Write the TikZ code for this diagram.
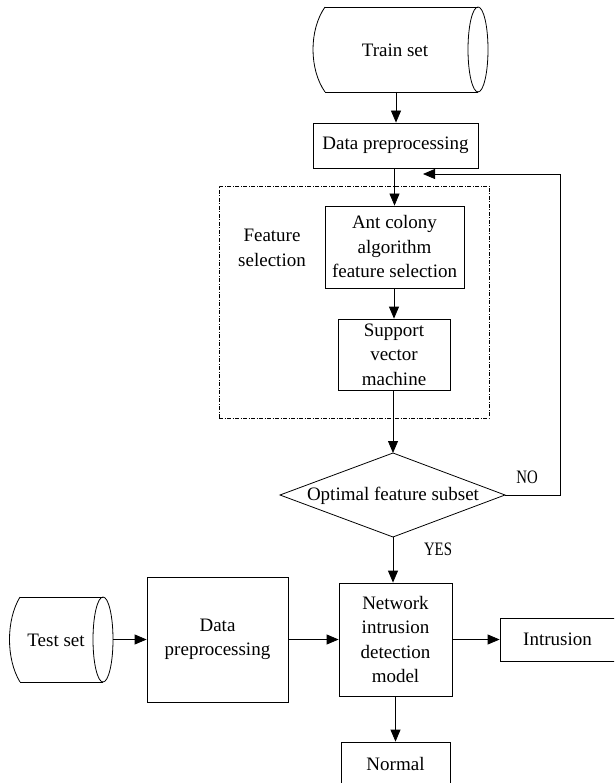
\documentclass[tikz,border=0pt]{standalone}
\usepackage{fontspec}
\setmainfont{Liberation Serif}
\usetikzlibrary{arrows.meta,calc}
\tikzset{
  box/.style={draw, line width=0.8pt, inner sep=0pt, align=center, font=\fontsize{19}{24.5}\selectfont},
  txt/.style={inner sep=0pt, align=center, font=\fontsize{19}{24.5}\selectfont},
  yn/.style={inner sep=0pt, xscale=0.78, font=\fontsize{19}{24.5}\selectfont},
  arr/.style={line width=0.8pt, -{Triangle[length=12pt,width=10pt]}},
  ln/.style={line width=0.8pt},
  dashbox/.style={draw, line width=0.6pt, dash pattern=on 4pt off 1.5pt on 1pt off 1.5pt, inner sep=0pt}
}
\begin{document}
\begin{tikzpicture}[x=1pt,y=-1pt]
\useasboundingbox (0,0) rectangle (614,783);
\clip (0,0) rectangle (614,783);
\fill[white] (0,0) rectangle (614,783);

% Train set cylinder
\draw[ln] (325,7) -- (478,7);
\draw[ln] (325,92) -- (478,92);
\draw[ln] (325,7) .. controls (309,30) and (309,69) .. (325,92);
\draw[ln] (478,49.5) ellipse [x radius=10, y radius=42.5];
\node[txt] (train) at (395,50) {Train set};
\coordinate (trainB) at (396,92);

% Data preprocessing (top)
\node[box, minimum width=165pt, minimum height=45pt] (dp1) at (395.5,145.5) {Data preprocessing};

% Feature selection dashed box
\node[dashbox, minimum width=270pt, minimum height=232pt] (fs) at (354,302) {};
\node[txt] (fstxt) at (272,248) {Feature\\selection};

\node[box, minimum width=139pt, minimum height=82pt] (aco) at (394.5,247) {Ant colony\\algorithm\\feature selection};
\node[box, minimum width=112pt, minimum height=71pt] (svm) at (394,354.5) {Support\\vector\\machine};

% Diamond
\coordinate (diaT) at (393,453);
\coordinate (diaB) at (393,537);
\coordinate (diaL) at (280,495);
\coordinate (diaR) at (505,495);
\draw[ln] (diaT) -- (diaR) -- (diaB) -- (diaL) -- cycle;
\node[txt] (dia) at (393,496) {Optimal feature subset};

\node[yn] (no) at (527,477) {NO};
\node[yn] (yes) at (438,549) {YES};

% NIDM
\node[box, minimum width=113pt, minimum height=113pt, text depth=0pt] (nidm) at (395.5,639.5) {Network\\intrusion\\detection\\model};

% Test set cylinder
\draw[ln] (20,597) -- (103,597);
\draw[ln] (20,682) -- (103,682);
\draw[ln] (20,597) .. controls (6,620) and (6,659) .. (20,682);
\draw[ln] (103,639.5) ellipse [x radius=10, y radius=42.5];
\node[txt] (test) at (56,640) {Test set};
\coordinate (testR) at (113,639.5);

\node[box, minimum width=141pt, minimum height=125pt] (dp2) at (217.5,639.5) {Data\\preprocessing};
\node[box, minimum width=124pt, minimum height=43pt] (intr) at (562,639.5) {\hspace*{-9pt}Intrusion};
\node[box, minimum width=109pt, minimum height=48pt] (normal) at (395.5,766) {\raisebox{4pt}{Normal}};

% Connectors
\draw[arr] (trainB) -- (trainB |- dp1.north);
\draw[arr] (dp1.south -| aco.north) -- (aco.north);
\draw[arr] (aco.south -| svm.north) -- (svm.north);
\draw[arr] (svm.south -| diaT) -- (diaT);
\coordinate (loopc) at (560,174);
\coordinate (fbin) at (423,174);
\draw[arr] (diaR) -| (loopc) -- (fbin);
\draw[arr] (diaB) -- (diaB |- nidm.north);
\draw[arr] (testR) -- (dp2.west);
\draw[arr] (dp2.east) -- (nidm.west);
\draw[arr] (nidm.east) -- (intr.west);
\draw[arr] (nidm.south) -- (normal.north);
\end{tikzpicture}
\end{document}
